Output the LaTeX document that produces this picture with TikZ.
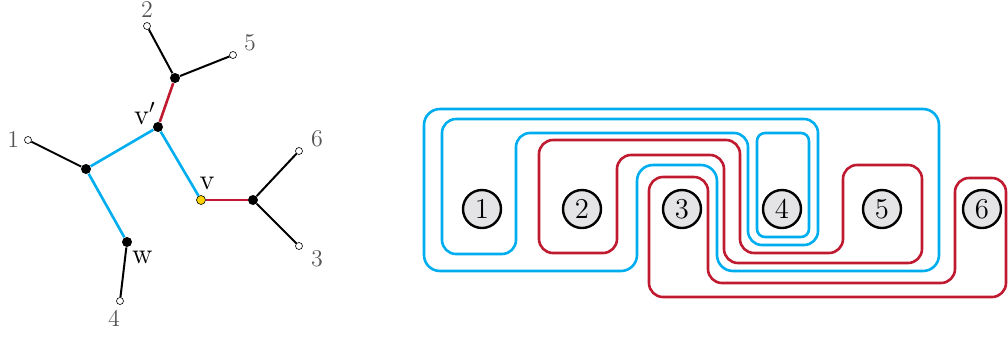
\documentclass[tikz,border=0pt]{standalone}
\usepackage{tikz}
\usetikzlibrary{positioning}
\definecolor{splitblue}{HTML}{00AEEF}
\definecolor{splitred}{HTML}{C01A30}
\definecolor{leafgray}{HTML}{555555}
\definecolor{taxonfill}{HTML}{E4E4E6}
\definecolor{rootyellow}{HTML}{FFD200}

\begin{document}
\begin{tikzpicture}[x=0.5pt, y=-0.5pt,
  leaf/.style={circle, draw=black, fill=white, inner sep=0pt, minimum size=3.5pt, line width=0.3pt},
  inner/.style={circle, fill=black, inner sep=0pt, minimum size=5pt},
  root/.style={circle, draw=black, fill=rootyellow, line width=0.3pt, inner sep=0pt, minimum size=4.5pt},
  num/.style={text=leafgray, font=\large},
  vlab/.style={font=\Large},
  taxon/.style={circle, draw=black, line width=1.2pt, fill=taxonfill, minimum size=19pt, inner sep=0pt, font=\Large},
  blueloop/.style={draw=splitblue, line width=1.3pt, rounded corners=7pt},
  redloop/.style={draw=splitred, line width=1.3pt, rounded corners=7pt}]
\useasboundingbox (0,0) rectangle (1008,339);

% tree
\node[leaf, label={[num, label distance=-1pt]above:2}] (l2) at (147,26) {};
\node[leaf, label={[num, xshift=3.5pt, label distance=-4pt]above right:5}] (l5) at (233,55) {};
\node[leaf, label={[num, label distance=-1pt]left:1}] (l1) at (28,140) {};
\node[leaf, label={[num, xshift=4pt, label distance=-4pt]above right:6}] (l6) at (299,151) {};
\node[leaf, label={[num, xshift=4pt, label distance=-4pt]below right:3}] (l3) at (299,246) {};
\node[leaf, label={[num, xshift=-3pt, label distance=-1pt]below:4}] (l4) at (120,301) {};
\node[inner] (a) at (175,78) {};
\node[inner, label={[vlab, label distance=-6pt]above left:v$'$}] (vp) at (158,127) {};
\node[inner] (b) at (86,169) {};
\node[root, label={[vlab, xshift=3pt, label distance=-1pt]above:v}] (v) at (201,200) {};
\node[inner] (c) at (253,200) {};
\node[inner, label={[vlab, yshift=-2pt, label distance=-4pt]below right:w}] (w) at (127,242) {};

\draw[line width=1pt] (l2) -- (a);
\draw[line width=1pt] (l5) -- (a);
\draw[line width=1pt] (l1) -- (b);
\draw[line width=1pt] (w) -- (l4);
\draw[line width=1pt] (c) -- (l6);
\draw[line width=1pt] (c) -- (l3);
\draw[splitred, line width=1.3pt] (a) -- (vp);
\draw[splitred, line width=1.3pt] (v) -- (c);
\draw[splitblue, line width=1.3pt] (vp) -- (b);
\draw[splitblue, line width=1.3pt] (vp) -- (v);
\draw[splitblue, line width=1.3pt] (b) -- (w);

% splits
\draw[blueloop, rounded corners=8pt] (424,109) -- (939,109) -- (939,271) -- (717,271) -- (717,165)
  -- (637,165) -- (637,271) -- (424,271) -- cycle;
\draw[blueloop] (442,119) -- (818,119) -- (818,245) -- (748,245) -- (748,133)
  -- (516,133) -- (516,254) -- (442,254) -- cycle;
\draw[blueloop, rounded corners=4pt] (757,133) rectangle (809,237);
\draw[redloop] (539,140) -- (740,140) -- (740,253) -- (843,253) -- (843,165)
  -- (922,165) -- (922,263) -- (724,263) -- (724,155) -- (617,155)
  -- (617,253) -- (539,253) -- cycle;
\draw[redloop] (649,177) -- (708,177) -- (708,283) -- (955,283) -- (955,178)
  -- (1006,178) -- (1006,297) -- (649,297) -- cycle;

\foreach \i in {1,...,6}
  \node[taxon] (t\i) at ({382+100*\i},209) {\i};
\end{tikzpicture}
\end{document}
